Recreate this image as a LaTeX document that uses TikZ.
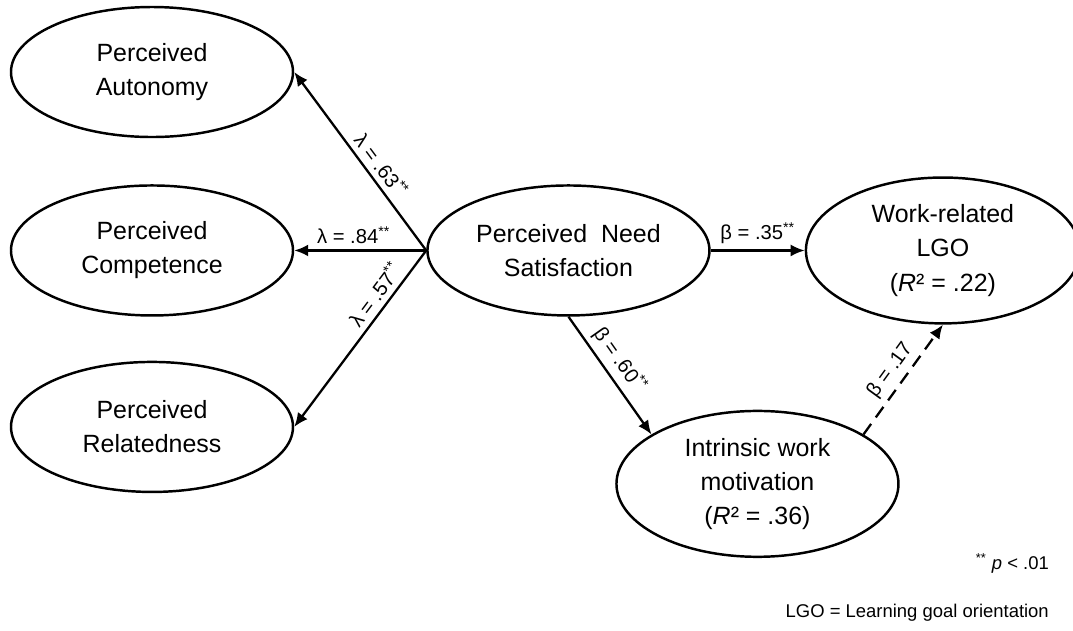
\documentclass[tikz,border=0pt]{standalone}
\usepackage{fontspec}
\setmainfont{Liberation Sans}
\usepackage{tikz}
\usetikzlibrary{shapes,arrows.meta,positioning,calc}

\begin{document}
\begin{tikzpicture}[node distance=0.9cm,
    latent/.style={ellipse, draw, line width=1.4pt, minimum width=5.64cm, minimum height=2.6cm, align=center, font=\fontsize{14.2}{19.4}\selectfont},
    path/.style={-{Latex[length=2.8mm, width=2.4mm]}, line width=1.3pt},
    coef/.style={font=\fontsize{11.5}{13}\selectfont, sloped, above, inner sep=3pt}]

    \useasboundingbox (-3.04,1.44) rectangle (18.42,-11.16);

    % Nodes
    \node[latent] (aut) {Perceived\\Autonomy};
    \node[latent, below=0.92cm of aut] (comp) {Perceived\\Competence};
    \node[latent, below=0.88cm of comp] (rel) {Perceived\\Relatedness};
    \node[latent, right=2.64cm of comp] (ns) {Perceived~~Need\\Satisfaction};
    \node[latent, minimum width=5.48cm, right=1.88cm of ns] (lgo) {Work-related\\LGO\\(\textit{R}² = .22)};
    \node[latent, below=1.86cm of ns, xshift=3.78cm] (im) {Intrinsic work\\motivation\\(\textit{R}² = .36)};

    % Relationships
    \draw[path] (ns.west) -- node[coef, pos=0.43] {λ = .63\textsuperscript{**}} (aut.east);
    \draw[path] (ns.west) -- node[coef, pos=0.55] {λ = .84\textsuperscript{**}} (comp.east);
    \draw[path] (ns.west) -- node[coef, pos=0.3] {λ = .57\textsuperscript{**}} (rel.east);
    \draw[path] (ns.east) -- node[coef] {β = .35\textsuperscript{**}} (lgo.west);
    \draw[path] (ns.south) -- node[coef, pos=0.45] {β = .60\textsuperscript{**}} (im.155);
    \draw[path, dash pattern=on 2.6mm off 1.6mm] (im.25) -- node[coef, pos=0.5] {β = .17} (lgo.south);

    % Notes
    \node[anchor=base east, font=\fontsize{10.5}{12}\selectfont] (sig) at (18.06,-9.94) {\textsuperscript{**} \textit{p} < .01};
    \node[anchor=base east, font=\fontsize{10.5}{12}\selectfont] (abbr) at (18.06,-10.9) {LGO = Learning goal orientation};

\end{tikzpicture}
\end{document}
